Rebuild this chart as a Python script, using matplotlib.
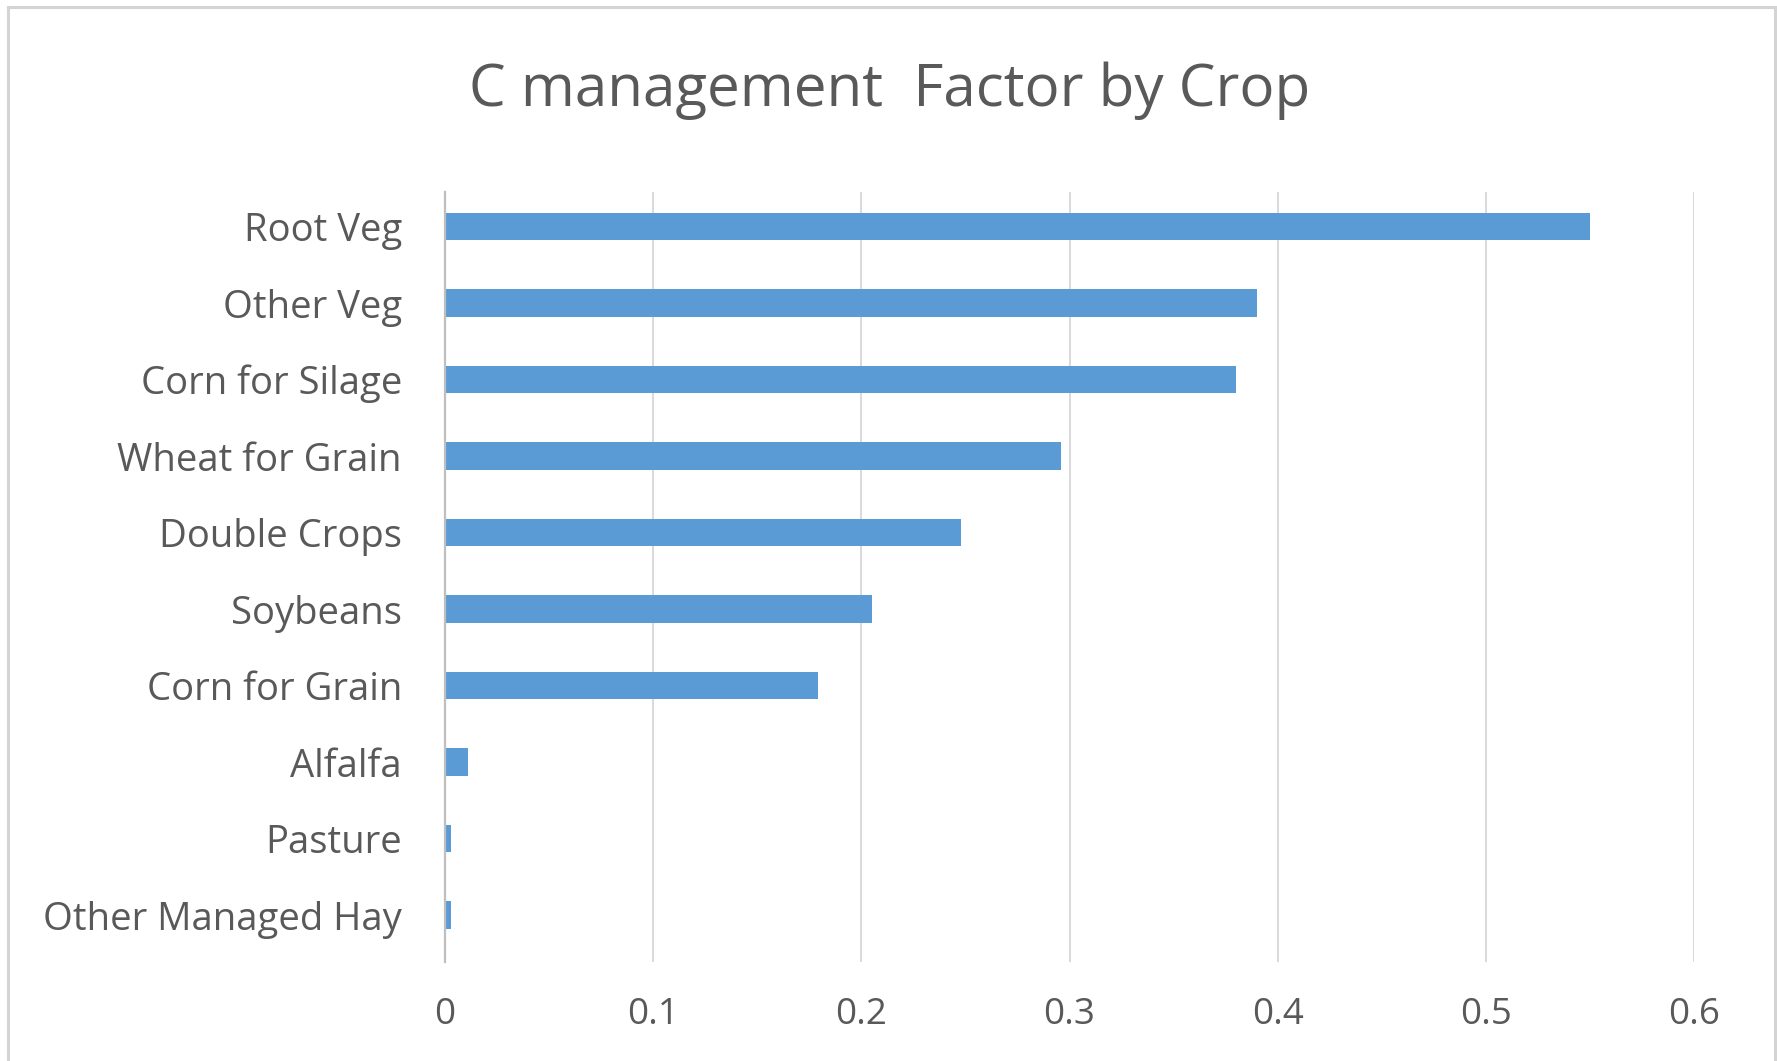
import matplotlib
matplotlib.use("Agg")
import matplotlib.pyplot as plt
from matplotlib.patches import Rectangle

# C management factor per crop type
crops = ["Root Veg", "Other Veg", "Corn for Silage", "Wheat for Grain",
         "Double Crops", "Soybeans", "Corn for Grain", "Alfalfa",
         "Pasture", "Other Managed Hay"]
c_factor = [0.550, 0.390, 0.380, 0.296, 0.248, 0.205, 0.179, 0.011, 0.003, 0.003]
x_ticks = [0, 0.1, 0.2, 0.3, 0.4, 0.5, 0.6]
x_tick_labels = ["0", "0.1", "0.2", "0.3", "0.4", "0.5", "0.6"]

W, H = 1777, 1061
DPI = 100
TEXT = "#595959"
BAR = "#5B9BD5"
GRID = "#D9D9D9"

plt.rcParams["font.family"] = ["Open Sans", "DejaVu Sans"]

fig = plt.figure(figsize=(W / DPI, H / DPI), dpi=DPI)
fig.patch.set_facecolor("white")

# chart frame (bottom edge runs off the canvas)
fig.patches.append(Rectangle((8 / W, -0.05), (1775 - 8) / W, 1.05 - 7 / H,
                             transform=fig.transFigure, fill=False,
                             edgecolor="#D4D4D4", linewidth=2.2, zorder=0))

left, right = 445 / W, 1694 / W
bottom, top = 1 - 962 / H, 1 - 192 / H
ax = fig.add_axes([left, bottom, right - left, top - bottom])

pos = list(range(len(crops)))
ax.barh(pos, c_factor, height=0.36, color=BAR, zorder=3)

ax.set_xlim(0, 0.6)
ax.set_ylim(9.614, -0.451)
ax.set_xticks(x_ticks)
ax.set_xticklabels(x_tick_labels)
ax.set_yticks(pos)
ax.set_yticklabels(crops)

ax.grid(axis="x", color=GRID, linewidth=1.4, zorder=0)
ax.set_axisbelow(True)
for side in ("top", "right", "bottom"):
    ax.spines[side].set_visible(False)
ax.spines["left"].set_color("#BFBFBF")
ax.spines["left"].set_linewidth(1.6)
ax.spines["left"].set_zorder(4)

ax.tick_params(axis="x", length=0, pad=25, labelsize=26.5, labelcolor=TEXT)
ax.tick_params(axis="y", length=0, pad=31, labelsize=27.5, labelcolor=TEXT)

fig.text(890 / W, 1 - 91 / H, "C management  Factor by Crop",
         ha="center", va="center", fontsize=42, color=TEXT)

fig.savefig("out.png", dpi=DPI, facecolor="white")
